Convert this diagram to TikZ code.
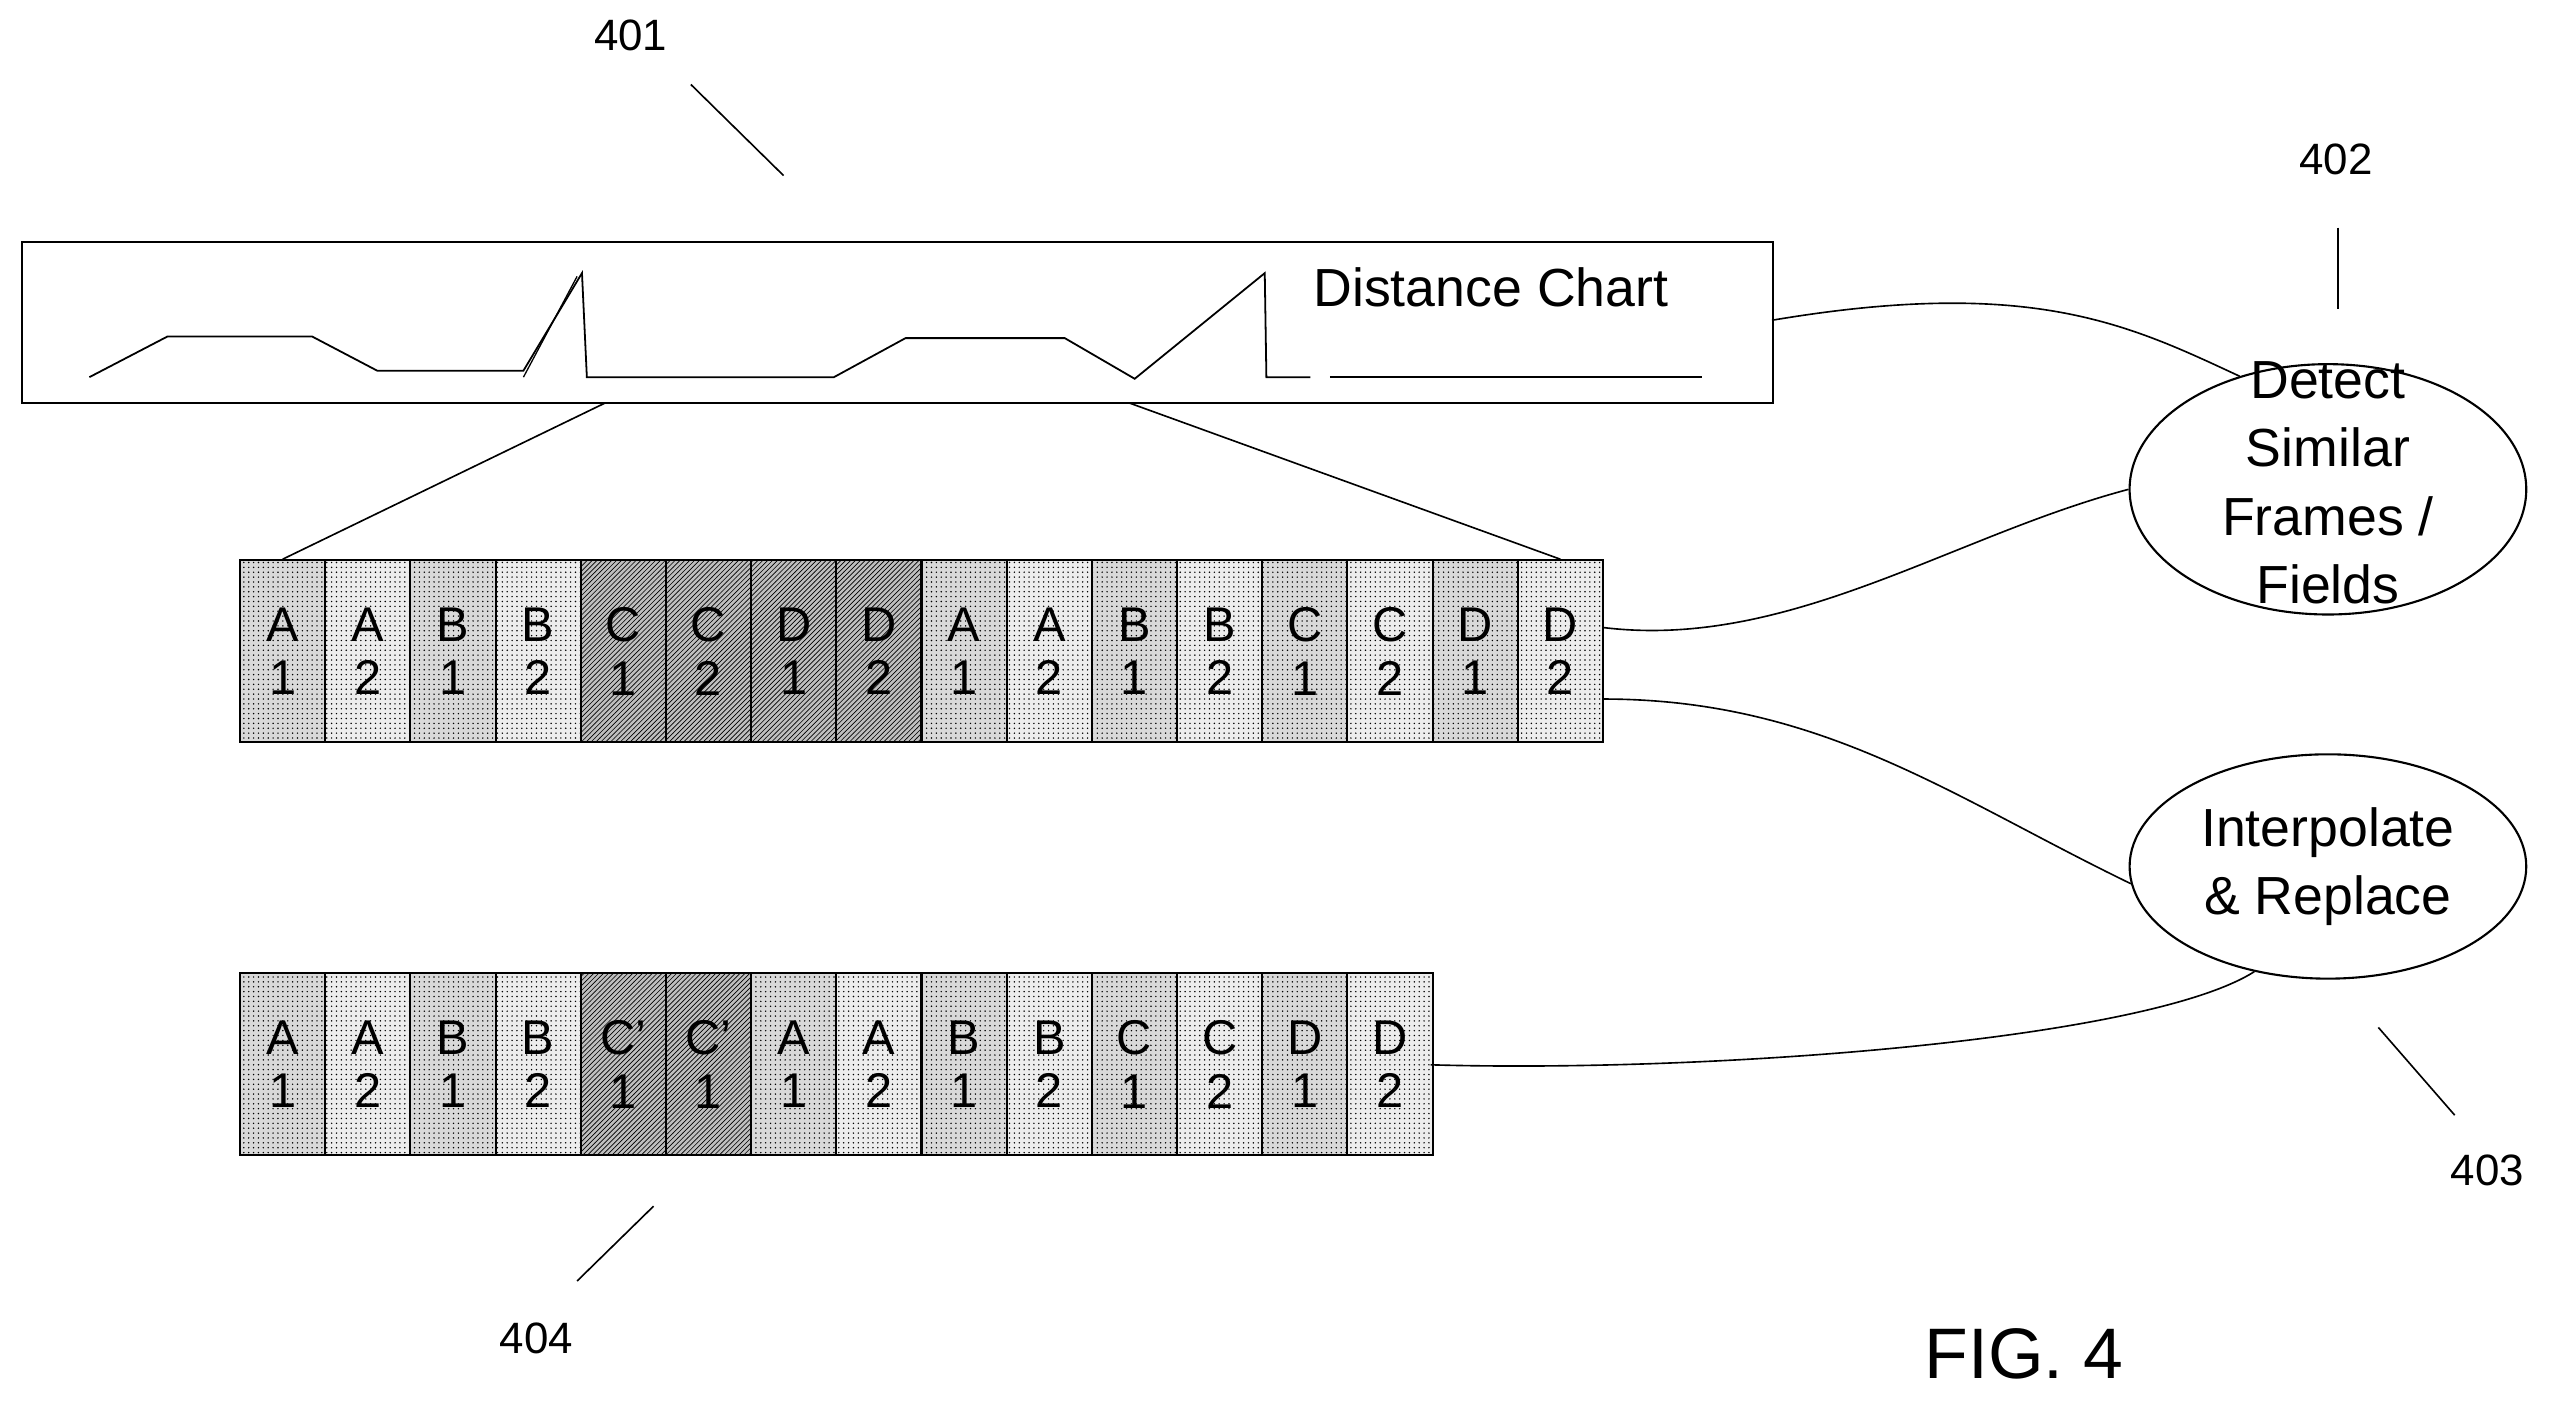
\documentclass[tikz,border=0pt]{standalone}
\usepackage{fontspec}
\setmainfont{Liberation Sans}
\usetikzlibrary{patterns,shapes.geometric}
\begin{document}
\begin{tikzpicture}[x=1pt,y=-1pt,line width=1.3pt,
  cell/.style={draw,minimum width=52.4pt,minimum height=112pt,inner sep=0,anchor=north west,font=\fontsize{30}{33}\selectfont,align=center},
  odd/.style={cell,fill=gray!30,postaction={pattern=dots}},
  even/.style={cell,fill=gray!14,postaction={pattern=dots}},
  dark/.style={cell,fill=gray!50,postaction={pattern=north east lines}},
  lbl/.style={font=\fontsize{27}{30}\selectfont},
  oval/.style={draw,ellipse,inner sep=0},
  ovtext/.style={font=\fontsize{33}{42}\selectfont,align=center,inner sep=0},
  con/.style={line width=1pt}]
\useasboundingbox (0,0) rectangle (1568,865);
\node[draw,minimum width=1077pt,minimum height=99pt,anchor=north west,inner sep=0] (chart) at (13,148) {};
\node[font=\fontsize{33}{36}\selectfont,anchor=west] (dc) at (804,177) {Distance Chart};
\draw[line width=1.1pt] (55,232)--(103,207)--(192,207)--(232,228)--(322,228)--(358,168)--(361,232)--(513,232)--(557,208)--(655,208)--(698,233)--(778,168)--(779,232)--(806,232);
\draw[line width=0.8pt] (322,232)--(355,170);
\draw[line width=1.1pt] (818,232)--(1047,232);
\foreach \t/\s [count=\i from 0] in {A\\1/odd,A\\2/even,B\\1/odd,B\\2/even,C\\1/dark,C\\2/dark,D\\1/dark,D\\2/dark,A\\1/odd,A\\2/even,B\\1/odd,B\\2/even,C\\1/odd,C\\2/even,D\\1/odd,D\\2/even}
  \node[\s] (r\i) at ({147+52.4*\i},344) {\t};
\foreach \t/\s [count=\i from 0] in {A\\1/odd,A\\2/even,B\\1/odd,B\\2/even,C'\\1/dark,C'\\1/dark,A\\1/odd,A\\2/even,B\\1/odd,B\\2/even,C\\1/odd,C\\2/even,D\\1/odd,D\\2/even}
  \node[\s] (s\i) at ({147+52.4*\i},598) {\t};
\coordinate (c1) at (372,248); \coordinate (c2) at (695,248);
\draw[con] (c1)--(r0.north);
\draw[con] (c2)--(r15.north);
\node[oval,minimum width=244pt,minimum height=154pt] (det) at (1432,301) {};
\node[ovtext] (dett) at (1432,297) {Detect\\Similar\\Frames /\\Fields};
\node[oval,minimum width=244pt,minimum height=138pt] (int) at (1432,533) {};
\node[ovtext] (intt) at (1432,533) {Interpolate\\\& Replace};
\draw[con] (1090,197) .. controls (1250,170) and (1310,200) .. (det.128);
\draw[con] (986,386) .. controls (1100,400) and (1200,330) .. (det.west);
\draw[con] (986,430) .. controls (1120,430) and (1200,490) .. (int.185);
\draw[con] (880,655) .. controls (1050,660) and (1320,640) .. (int.235);
\node[lbl] (l401) at (388,22) {401}; \draw[con] (425,52)--(482,108);
\node[lbl] (l402) at (1437,98) {402}; \draw[con] (1438,140)--(1438,190);
\node[lbl] (l403) at (1530,720) {403}; \draw[con] (1463,632)--(1510,686);
\node[lbl] (l404) at (330,823) {404}; \draw[con] (355,788)--(402,742);
\node[font=\fontsize{44}{48}\selectfont] (fig) at (1245,833) {FIG. 4};
\end{tikzpicture}
\end{document}
